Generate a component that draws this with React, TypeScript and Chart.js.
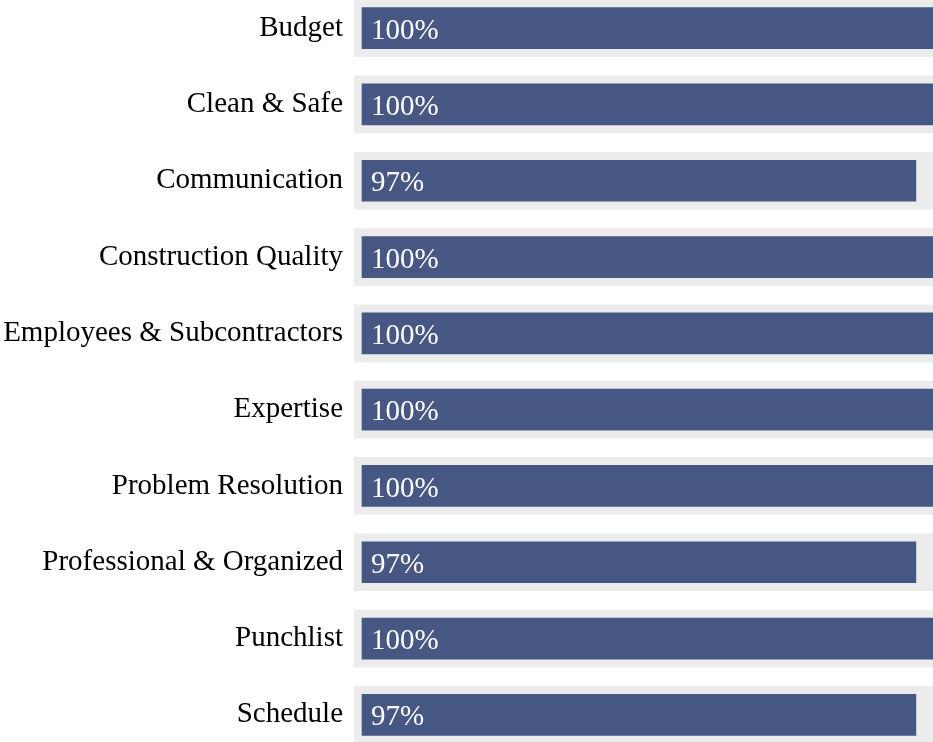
import React, { useEffect, useRef } from "react";
import { Chart, registerables } from "chart.js";

Chart.register(...registerables);

const categories = [
  "Budget",
  "Clean & Safe",
  "Communication",
  "Construction Quality",
  "Employees & Subcontractors",
  "Expertise",
  "Problem Resolution",
  "Professional & Organized",
  "Punchlist",
  "Schedule",
];
const scores = [100, 100, 97, 100, 100, 100, 100, 97, 100, 97];
const maxScore = 100;
const trackStart = -1.401;

const FONT = "'Liberation Serif', 'Times New Roman', Times, serif";
const FONT_SIZE = 29;

const valueLabels = {
  id: "valueLabels",
  afterDatasetsDraw(chart: any) {
    const ctx = chart.ctx;
    const meta = chart.getDatasetMeta(0);
    ctx.save();
    ctx.font = `${FONT_SIZE}px ${FONT}`;
    ctx.fillStyle = "#ffffff";
    ctx.textAlign = "left";
    ctx.textBaseline = "middle";
    meta.data.forEach((el: any, i: number) => {
      const p = el.getProps(["x", "y", "base"], true);
      ctx.fillText(`${scores[i]}%`, Math.min(p.x, p.base) + 9, p.y + 3);
    });
    ctx.restore();
  },
};

export default function App() {
  const ref = useRef<HTMLCanvasElement>(null);
  useEffect(() => {
    if (!ref.current) return;
    const chart = new Chart(ref.current, {
      type: "bar",
      data: {
        labels: categories,
        datasets: [
          {
            data: scores.map((v) => [0, v]) as any,
            backgroundColor: "#475784",
            barThickness: 41,
            grouped: false,
            order: 0,
          },
          {
            data: scores.map(() => [trackStart, maxScore]) as any,
            backgroundColor: "#ececec",
            barThickness: 57,
            grouped: false,
            order: 1,
          },
        ],
      },
      options: {
        indexAxis: "y",
        animation: false,
        responsive: true,
        maintainAspectRatio: false,
        layout: { padding: 0 },
        plugins: { legend: { display: false }, tooltip: { enabled: false } },
        scales: {
          x: {
            display: false,
            min: trackStart,
            max: maxScore,
            grid: { display: false },
          },
          y: {
            border: { display: false },
            grid: { display: false, drawTicks: false },
            ticks: {
              color: "#000000",
              padding: 11,
              font: { family: FONT, size: FONT_SIZE },
            },
            afterFit(scale: any) {
              scale.width = 354;
              scale.paddingTop = 0;
              scale.paddingBottom = 0;
            },
          },
        },
      },
      plugins: [valueLabels],
    });
    return () => chart.destroy();
  }, []);
  return (
    <div style={{ position: "fixed", left: 0, top: -10, width: 933, height: 763 }}>
      <canvas ref={ref} />
    </div>
  );
}
